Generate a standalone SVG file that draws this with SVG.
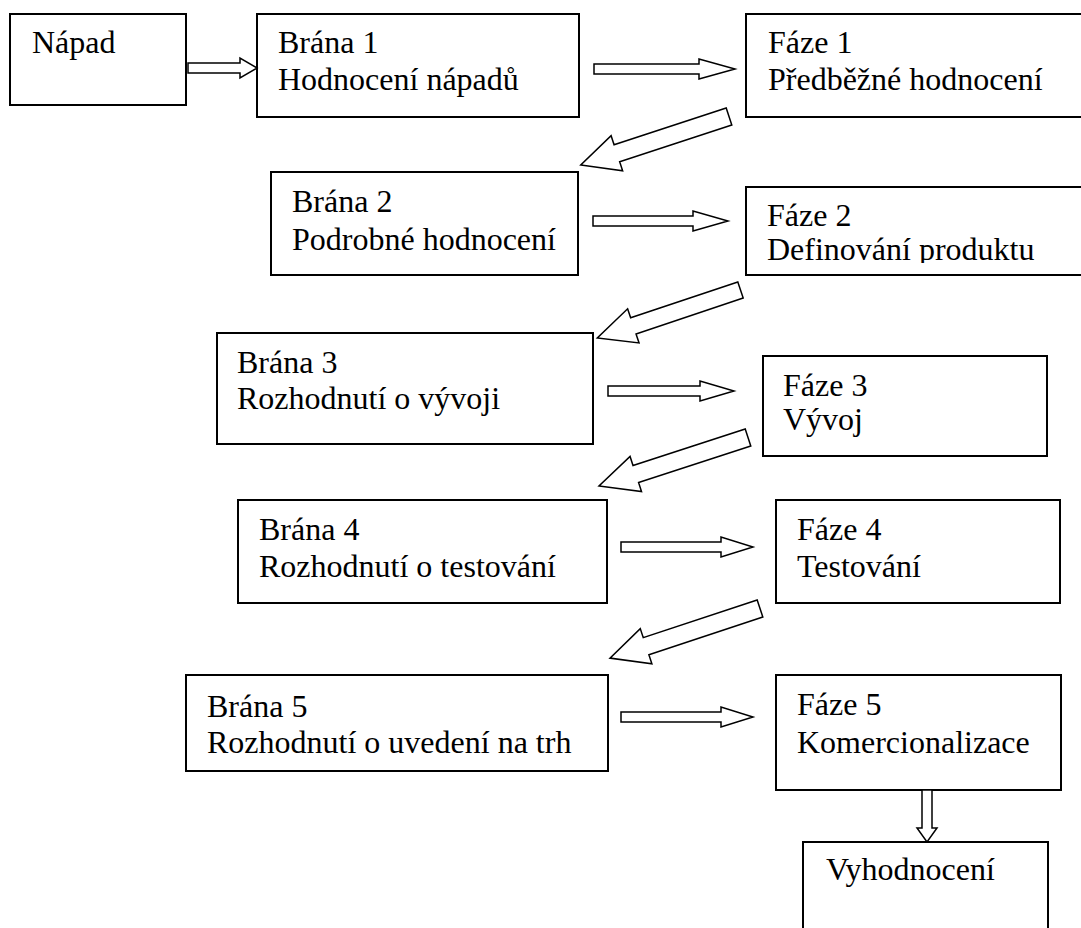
<svg xmlns="http://www.w3.org/2000/svg" width="1081" height="928" viewBox="0 0 1081 928">
  <style>
    .box { fill: #fff; stroke: #000; stroke-width: 2; }
    .lbl { font-family: "Liberation Serif", "Times New Roman", serif; font-size: 32px; fill: #000; }
    .arr { fill: #fff; stroke: #000; stroke-width: 1.5; stroke-linejoin: miter; }
  </style>
  <defs>
    <clipPath id="clip-faze2">
      <rect x="746" y="187" width="340" height="76"/>
    </clipPath>
  </defs>
  <rect width="1081" height="928" fill="#fff"/>

  <g id="napad">
    <rect class="box" x="10" y="14" width="176" height="91"/>
    <text class="lbl" x="32" y="53">Nápad</text>
  </g>
  <g id="brana1">
    <rect class="box" x="257" y="14" width="322" height="103"/>
    <text class="lbl" x="278" y="53">Brána 1</text>
    <text class="lbl" x="278" y="90">Hodnocení nápadů</text>
  </g>
  <g id="faze1">
    <rect class="box" x="746" y="14" width="345" height="103"/>
    <text class="lbl" x="768" y="53">Fáze 1</text>
    <text class="lbl" x="768" y="90">Předběžné hodnocení</text>
  </g>
  <g id="brana2">
    <rect class="box" x="271" y="172" width="307" height="103"/>
    <text class="lbl" x="292" y="212">Brána 2</text>
    <text class="lbl" x="292" y="250">Podrobné hodnocení</text>
  </g>
  <g id="faze2">
    <rect class="box" x="746" y="187" width="345" height="88"/>
    <text class="lbl" x="767" y="226">Fáze 2</text>
    <text class="lbl" x="767" y="260" clip-path="url(#clip-faze2)">Definování produktu</text>
  </g>
  <g id="brana3">
    <rect class="box" x="217" y="333" width="376" height="111"/>
    <text class="lbl" x="237" y="373">Brána 3</text>
    <text class="lbl" x="237" y="409">Rozhodnutí o vývoji</text>
  </g>
  <g id="faze3">
    <rect class="box" x="763" y="356" width="284" height="100"/>
    <text class="lbl" x="783" y="396">Fáze 3</text>
    <text class="lbl" x="783" y="430">Vývoj</text>
  </g>
  <g id="brana4">
    <rect class="box" x="238" y="500" width="369" height="103"/>
    <text class="lbl" x="259" y="540">Brána 4</text>
    <text class="lbl" x="259" y="577">Rozhodnutí o testování</text>
  </g>
  <g id="faze4">
    <rect class="box" x="776" y="500" width="284" height="103"/>
    <text class="lbl" x="797" y="540">Fáze 4</text>
    <text class="lbl" x="797" y="577">Testování</text>
  </g>
  <g id="brana5">
    <rect class="box" x="186" y="675" width="422" height="96"/>
    <text class="lbl" x="207" y="717">Brána 5</text>
    <text class="lbl" x="207" y="753">Rozhodnutí o uvedení na trh</text>
  </g>
  <g id="faze5">
    <rect class="box" x="776" y="675" width="285" height="115"/>
    <text class="lbl" x="797" y="715">Fáze 5</text>
    <text class="lbl" x="797" y="753">Komercionalizace</text>
  </g>
  <g id="vyhodnoceni">
    <rect class="box" x="803" y="842" width="245" height="100"/>
    <text class="lbl" x="826" y="880">Vyhodnocení</text>
  </g>

  <g id="connectors">
    <!-- horizontal block arrows: gate -> phase -->
    <path class="arr" d="M188,63 L240,63 L240,58 L257,68 L240,78 L240,73 L188,73 Z"/>
    <path class="arr" d="M594,64 L699,64 L699,59 L735,69 L699,79 L699,74 L594,74 Z"/>
    <path class="arr" d="M593,216 L693,216 L693,211 L728,221 L693,231 L693,226 L593,226 Z"/>
    <path class="arr" d="M608,386 L700,386 L700,381 L734,391 L700,401 L700,396 L608,396 Z"/>
    <path class="arr" d="M621,542 L721,542 L721,537 L753,547 L721,557 L721,552 L621,552 Z"/>
    <path class="arr" d="M621,712 L721,712 L721,707 L753,717 L721,727 L721,722 L621,722 Z"/>

    <!-- diagonal block arrows: phase -> next gate -->
    <path class="arr" transform="translate(729,116.5) rotate(161.86)" d="M0,-9 L118,-9 L118,-18.5 L156,0 L118,18.5 L118,9 L0,9 Z"/>
    <path class="arr" transform="translate(740.5,290) rotate(161.5)" d="M0,-8.5 L113,-8.5 L113,-18 L151,0 L113,18 L113,8.5 L0,8.5 Z"/>
    <path class="arr" transform="translate(748,437.5) rotate(161.97)" d="M0,-9 L118,-9 L118,-18.5 L156.7,0 L118,18.5 L118,9 L0,9 Z"/>
    <path class="arr" transform="translate(760,608.5) rotate(161.7)" d="M0,-9 L120,-9 L120,-18.5 L158,0 L120,18.5 L120,9 L0,9 Z"/>

    <!-- vertical block arrow: commercialisation -> evaluation -->
    <path class="arr" d="M922,790 L922,828 L917,828 L927,842 L937,828 L932,828 L932,790 Z"/>
  </g>
</svg>
